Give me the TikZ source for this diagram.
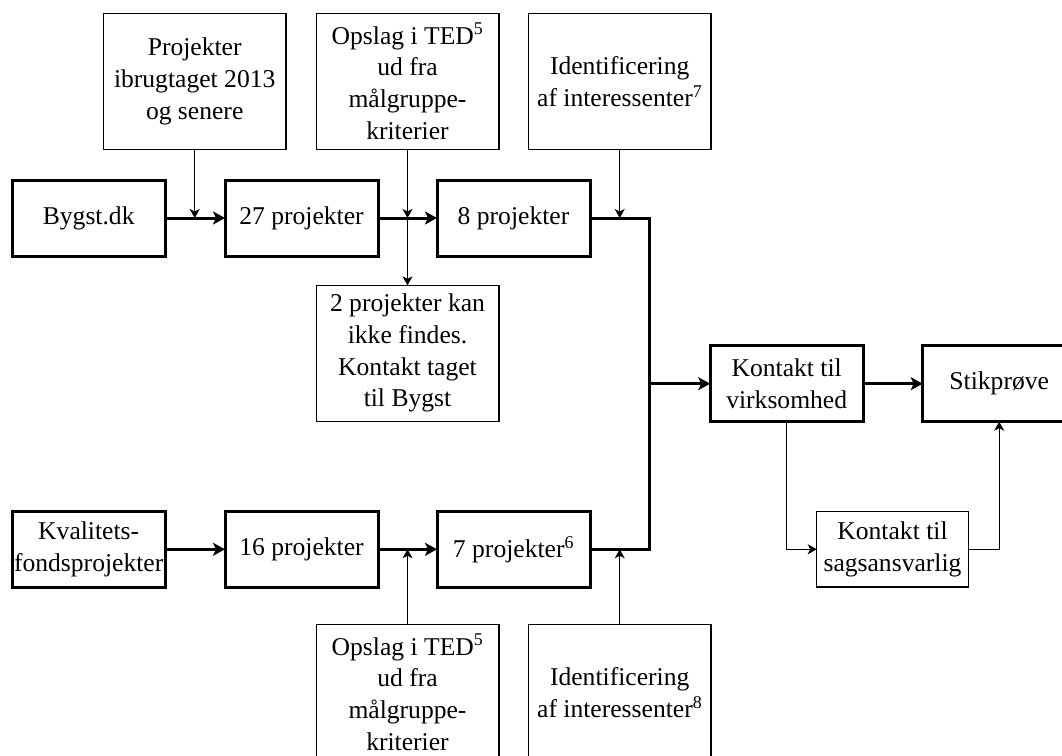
\documentclass[tikz,border=0pt]{standalone}
\usepackage{fontspec}
\setmainfont{Liberation Serif}
\usetikzlibrary{arrows.meta}
\begin{document}
\begin{tikzpicture}[x=1pt,y=-1pt]
\tikzset{
  lbl/.style={font=\fontsize{25.6}{31.7}\selectfont, align=center, inner sep=0pt, outer sep=0pt},
  mainbox/.style={lbl, draw, line width=3pt, minimum width=153pt, minimum height=76pt},
  sidebox/.style={lbl, draw, line width=1.3pt, minimum width=182.7pt, minimum height=136pt},
  smallbox/.style={lbl, draw, line width=1.3pt, minimum width=151.6pt, minimum height=75.3pt},
  flow/.style={line width=3pt, -{Stealth[length=12pt,width=13pt,inset=3pt]}},
  bus/.style={line width=3pt, line join=miter},
  feed/.style={line width=1.4pt, -{Stealth[length=9pt,width=10pt,inset=2.5pt]}},
}
\path[use as bounding box, clip] (0,0) rectangle (1062,755);

% upper chain
\node[mainbox] (bygst) at (88.7,218) {Bygst.dk};
\node[mainbox] (p27) at (301.5,218) {27 projekter};
\node[mainbox] (p8) at (513.5,218) {8 projekter};

% lower chain
\node[mainbox] (kval) at (88.7,549.3) {Kvalitets-\\fondsprojekter};
\node[mainbox] (p16) at (301.5,549.3) {16 projekter};
\node[mainbox] (p7) at (513.5,549.3) {7 projekter\textsuperscript{6}};

% contact and sample
\node[mainbox] (virk) at (786.7,383.7) {Kontakt til\\virksomhed};
\node[mainbox] (stik) at (999.2,383.7) {Stikprøve};
\node[smallbox] (sag) at (892.5,549.3) {Kontakt til\\sagsansvarlig};

% side inputs
\node[sidebox] (ibrug) at (194.7,81.3) {Projekter\\ibrugtaget 2013\\og senere};
\node[sidebox] (tedA) at (407.5,81.3) {Opslag i TED\textsuperscript{5}\\ud fra\\målgruppe-\\kriterier};
\node[sidebox] (intA) at (619.7,81.3) {Identificering\\af interessenter\textsuperscript{7}};
\node[sidebox] (kan) at (407.5,353.3) {2 projekter kan\\ikke findes.\\Kontakt taget\\til Bygst};
\node[sidebox] (tedB) at (407.5,692.3) {Opslag i TED\textsuperscript{5}\\ud fra\\målgruppe-\\kriterier};
\node[sidebox] (intB) at (619.7,692.3) {Identificering\\af interessenter\textsuperscript{8}};

\coordinate (busx) at (649.7,0);

% main flow
\draw[flow] (bygst.east) -- (p27.west);
\draw[flow] (p27.east) -- (p8.west);
\draw[flow] (kval.east) -- (p16.west);
\draw[flow] (p16.east) -- (p7.west);
\draw[bus] (p8.east) -| (busx |- p7.east) -- (p7.east);
\draw[flow] (busx |- virk.west) -- (virk.west);
\draw[flow] (virk.east) -- (stik.west);

% side feeds
\draw[feed] (ibrug.south) -- (ibrug.south |- p27.west);
\draw[feed] (tedA.south) -- (tedA.south |- p27.east);
\draw[feed] (tedA.south |- p27.east) -- (kan.north);
\draw[feed] (intA.south) -- (intA.south |- p8.east);
\draw[feed] (tedB.north) -- (tedB.north |- p16.east);
\draw[feed] (intB.north) -- (intB.north |- p7.east);
\draw[feed] (virk.south) |- (sag.west);
\draw[feed] (sag.east) -| (stik.south);
\end{tikzpicture}
\end{document}
